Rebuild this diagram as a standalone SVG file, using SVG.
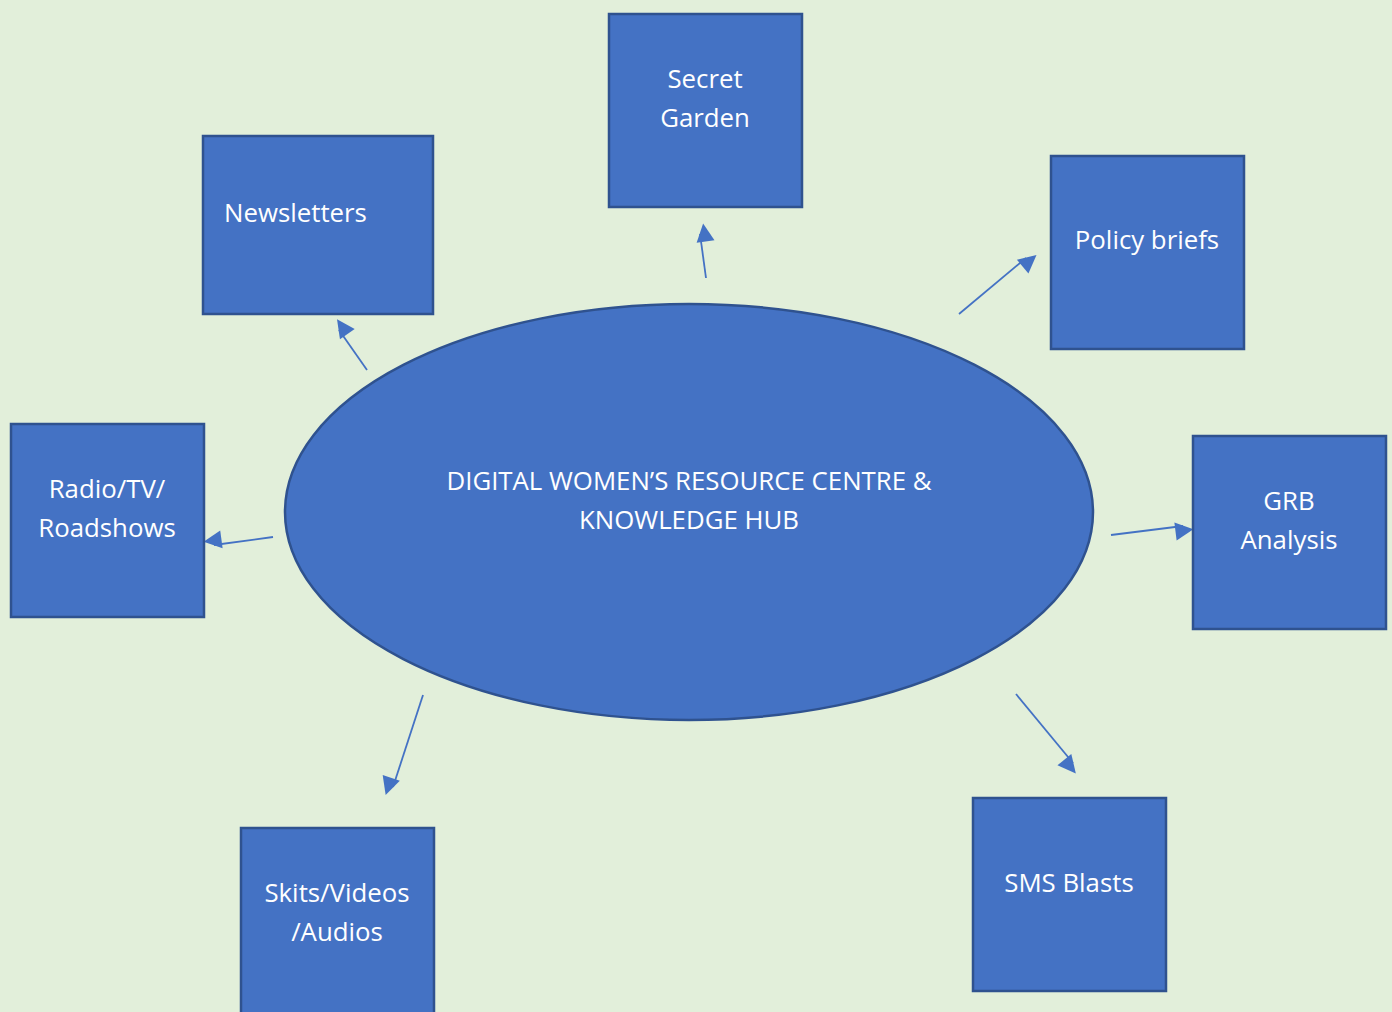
<svg xmlns="http://www.w3.org/2000/svg" width="1392" height="1012" viewBox="0 0 1392 1012">
<defs>
<style>
.box{fill:#4472C4;stroke:#2F528F;stroke-width:2.5}
.t{font-family:"Open Sans","Liberation Sans",sans-serif;font-size:25.8px;fill:#FFFFFF;text-anchor:middle}
.c{stroke:#4472C4;stroke-width:1.8;fill:none;marker-end:url(#ah)}
</style>
<marker id="ah" viewBox="0 0 10 10" refX="9" refY="5" markerWidth="10" markerHeight="9" markerUnits="userSpaceOnUse" orient="auto" style="overflow:visible">
<path d="M0,0 L10,5 L0,10 z" fill="#4472C4" transform="scale(2)"/>
</marker>
</defs>
<rect width="1392" height="1012" fill="#E2EFDA"/>
<g id="connectors">
<line class="c" x1="367" y1="370" x2="339" y2="330"/>
<line class="c" x1="706" y1="278" x2="700" y2="234"/>
<line class="c" x1="959" y1="314" x2="1026" y2="258"/>
<line class="c" x1="273" y1="537" x2="214" y2="545"/>
<line class="c" x1="1111" y1="535" x2="1183" y2="526"/>
<line class="c" x1="423" y1="695" x2="393" y2="787"/>
<line class="c" x1="1016" y1="694" x2="1073" y2="763"/>
</g>
<g id="hub">
<ellipse class="box" cx="689" cy="512" rx="404" ry="208"/>
<text class="t" x="689" y="490">DIGITAL WOMEN’S RESOURCE CENTRE &amp;</text>
<text class="t" x="689" y="529">KNOWLEDGE HUB</text>
</g>
<g id="secret-garden">
<rect class="box" x="609" y="14" width="193" height="193"/>
<text class="t" x="705" y="88">Secret</text>
<text class="t" x="705" y="127">Garden</text>
</g>
<g id="newsletters">
<rect class="box" x="203" y="136" width="230" height="178"/>
<text class="t" x="224" y="222" style="text-anchor:start">Newsletters</text>
</g>
<g id="policy-briefs">
<rect class="box" x="1051" y="156" width="193" height="193"/>
<text class="t" x="1147" y="249">Policy briefs</text>
</g>
<g id="radio">
<rect class="box" x="11" y="424" width="193" height="193"/>
<text class="t" x="107" y="498">Radio/TV/</text>
<text class="t" x="107" y="537">Roadshows</text>
</g>
<g id="grb">
<rect class="box" x="1193" y="436" width="193" height="193"/>
<text class="t" x="1289" y="510">GRB</text>
<text class="t" x="1289" y="549">Analysis</text>
</g>
<g id="skits">
<rect class="box" x="241" y="828" width="193" height="193"/>
<text class="t" x="337" y="902">Skits/Videos</text>
<text class="t" x="337" y="941">/Audios</text>
</g>
<g id="sms">
<rect class="box" x="973" y="798" width="193" height="193"/>
<text class="t" x="1069" y="892">SMS Blasts</text>
</g>
</svg>
